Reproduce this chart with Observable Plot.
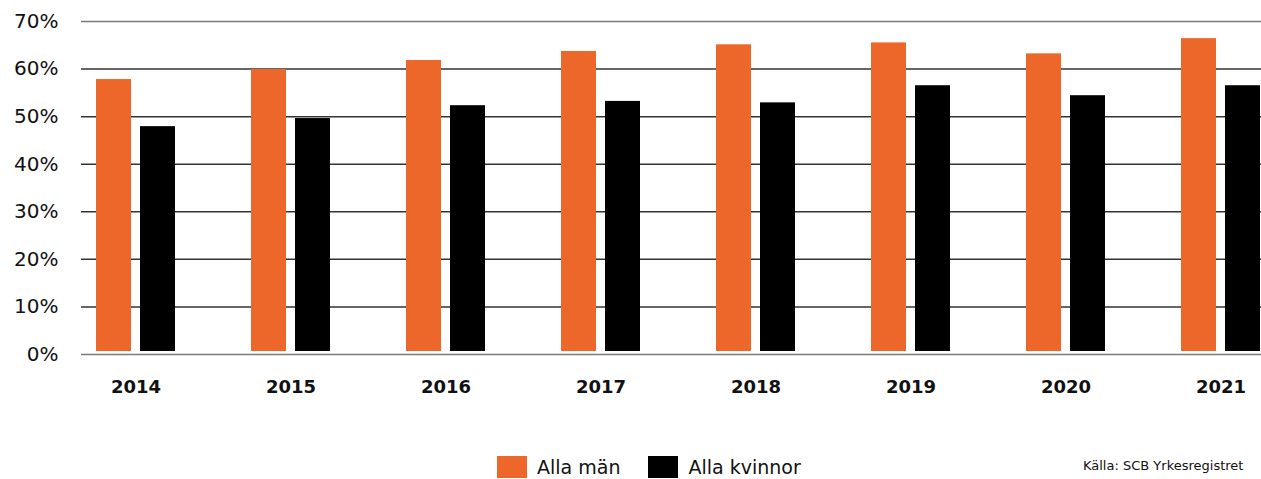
<!DOCTYPE html>
<html>
<head>
<meta charset="utf-8">
<script src="https://cdn.jsdelivr.net/npm/d3@7"></script>
<script src="https://cdn.jsdelivr.net/npm/@observablehq/plot@0.6"></script>
<style>
  html, body { margin: 0; padding: 0; background: #fff; overflow: hidden; }
  body { width: 1261px; height: 479px; position: relative; font-family: "DejaVu Sans", sans-serif; }
  #chart { position: absolute; left: 0; top: 0; }
  .legend { position: absolute; top: 456px; left: 497px; display: flex; align-items: center; font-size: 19px; line-height: 22px; color: #111; }
  .legend .sw { width: 30px; height: 22px; display: inline-block; margin-right: 10px; }
  .legend .item { display: flex; align-items: center; margin-right: 28px; }
  .source { position: absolute; top: 457px; left: 1083px; font-size: 13px; line-height: 18px; color: #111; white-space: nowrap; }
</style>
</head>
<body>
<div id="chart"></div>
<div class="legend">
  <div class="item"><span class="sw" style="background:#EC6729"></span><span>Alla män</span></div>
  <div class="item"><span class="sw" style="background:#000"></span><span>Alla kvinnor</span></div>
</div>
<div class="source">Källa: SCB Yrkesregistret</div>
<script>
const years = ["2014", "2015", "2016", "2017", "2018", "2019", "2020", "2021"];
const allaMan = [57.8, 59.9, 61.8, 63.7, 65.1, 65.5, 63.2, 66.4];
const allaKvinnor = [47.9, 49.6, 52.3, 53.2, 52.9, 56.5, 54.4, 56.5];
const yTicks = [0, 10, 20, 30, 40, 50, 60, 70];

const menData = years.map((y, i) => ({year: y, value: allaMan[i]}));
const womenData = years.map((y, i) => ({year: y, value: allaKvinnor[i]}));

const chart = Plot.plot({
  width: 1261,
  height: 440,
  marginTop: 21,
  marginBottom: 86,
  marginLeft: 81,
  marginRight: 0,
  style: {fontFamily: "DejaVu Sans, sans-serif", color: "#111", background: "#fff"},
  x: {domain: years, range: [58, 1298], padding: 0},
  y: {domain: [0, 70]},
  marks: [
    Plot.ruleY(yTicks, {stroke: d => (d === 0 || d === 70) ? "#7a7a7a" : "#333", strokeWidth: 1.5}),
    Plot.barY(menData, {x: "year", y: "value", fill: "#EC6729", insetLeft: 38, insetRight: 82, insetBottom: 3}),
    Plot.barY(womenData, {x: "year", y: "value", fill: "#000", insetLeft: 82, insetRight: 38, insetBottom: 3}),
    Plot.axisY(yTicks, {tickSize: 0, tickPadding: 23, tickFormat: d => d + "%", fontSize: 20, label: null}),
    Plot.axisX({tickSize: 0, tickPadding: 26, fontSize: 18, fontWeight: "bold", label: null})
  ]
});
document.getElementById("chart").appendChild(chart);
</script>
</body>
</html>
